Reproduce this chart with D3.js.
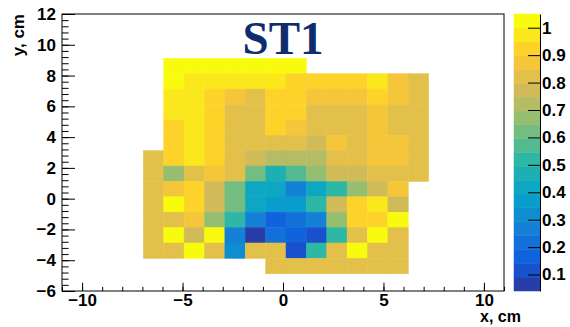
<!DOCTYPE html>
<html>
<head>
<meta charset="utf-8">
<script src="https://cdn.jsdelivr.net/npm/d3@7"></script>
<style>
  body { margin: 0; background: #fff; }
  svg { display: block; font-family: "Liberation Sans", Arial, sans-serif; }
  .axis text { font-size: 17px; font-weight: bold; fill: #000; }
  .axis path, .axis line { stroke: #000; }
</style>
</head>
<body>
<svg width="570" height="327"></svg>
<script>
"use strict";

const title = "ST1";
const xTitle = "x, cm";
const yTitle = "y, cm";

// bin grid of the map (14 x 14 bins)
const xStart = -6.95;
const xBinWidth = 14.2 / 14;
const yStart = -4.88;
const yBinWidth = 1;

// bin contents, top row first, left to right; null = empty bin
const rows = [
  [null, 1.02, 1.02, 1.02, 1.02, 1.02, 1.02, 1.02, null, null, null, null, null, null],
  [null, 1.02, 0.97, 0.97, 0.97, 0.97, 0.97, 0.92, 0.92, 0.92, 0.92, 0.97, 0.87, 0.82],
  [null, 0.97, 0.97, 0.92, 0.87, 0.82, 0.92, 0.92, 0.87, 0.87, 0.87, 0.92, 0.87, 0.82],
  [null, 0.97, 0.97, 0.92, 0.82, 0.82, 0.92, 0.92, 0.82, 0.82, 0.82, 0.87, 0.82, 0.82],
  [null, 0.92, 0.97, 0.92, 0.82, 0.82, 0.92, 0.87, 0.82, 0.82, 0.82, 0.87, 0.82, 0.82],
  [null, 0.92, 0.97, 0.92, 0.82, 0.82, 0.82, 0.82, 0.77, 0.87, 0.82, 0.87, 0.87, 0.82],
  [0.82, 0.92, 0.97, 0.92, 0.82, 0.77, 0.72, 0.72, 0.72, 0.82, 0.82, 0.87, 0.87, 0.82],
  [0.82, 0.67, 0.82, 0.87, 0.82, 0.62, 0.47, 0.57, 0.67, 0.77, 0.77, 0.82, 0.82, 0.82],
  [0.82, 0.87, 0.92, 0.77, 0.62, 0.42, 0.42, 0.27, 0.42, 0.52, 0.67, 0.77, 0.87, null],
  [0.82, 1.02, 0.92, 0.77, 0.62, 0.42, 0.37, 0.37, 0.52, 0.77, 0.92, 0.97, 0.77, null],
  [0.82, 0.82, 0.87, 0.67, 0.52, 0.27, 0.17, 0.22, 0.27, 0.67, 0.92, 0.92, 1.02, null],
  [0.82, 1.02, 0.77, 1.02, 0.27, 0.06, 0.22, 0.17, 0.12, 0.52, 0.82, 1.02, 0.82, null],
  [0.82, 0.82, 1.02, 0.82, 0.32, 0.82, 0.82, 0.12, 0.52, 0.82, 1.02, 0.82, 0.82, null],
  [null, null, null, null, null, null, 0.82, 0.82, 0.82, 0.82, 0.82, 0.82, 0.82, null]
];

const zMin = 0.04;
const zMax = 1.05;
const nContours = 20;

const xTicks = [-10, -5, 0, 5, 10];
const xMinorTicks = d3.range(-11, 12, 1);
const yTicks = [-6, -4, -2, 0, 2, 4, 6, 8, 10, 12];
const yMinorTicks = d3.range(-6, 12.01, 0.4);
const zTicks = [0.1, 0.2, 0.3, 0.4, 0.5, 0.6, 0.7, 0.8, 0.9, 1];

// kBird palette stops
const birdStops = [0, 0.125, 0.25, 0.375, 0.5, 0.625, 0.75, 0.875, 1];
const birdR = [0.2082, 0.0592, 0.0780, 0.0232, 0.1802, 0.5301, 0.8186, 0.9956, 0.9764];
const birdG = [0.1664, 0.3599, 0.5041, 0.6419, 0.7178, 0.7492, 0.7328, 0.7862, 0.9832];
const birdB = [0.5293, 0.8684, 0.8385, 0.7914, 0.6425, 0.4662, 0.3499, 0.1968, 0.0539];

const svg = d3.select("svg");

const frame = { left: 62, right: 504, top: 14, bottom: 291 };
const pal = { left: 514, right: 540 };

const x = d3.scaleLinear().domain([-11, 11]).range([frame.left, frame.right]);
const y = d3.scaleLinear().domain([-6, 12]).range([frame.bottom, frame.top]);
const z = d3.scaleLinear().domain([zMin, zMax]).range([frame.bottom, frame.top]);

const birdScale = ch => d3.scaleLinear().domain(birdStops).range(ch);
const rS = birdScale(birdR), gS = birdScale(birdG), bS = birdScale(birdB);
const palette = d3.range(255).map(i => {
  const f = i / 254;
  return d3.rgb(rS(f) * 255, gS(f) * 255, bS(f) * 255).formatHex();
});

const levelColor = k => {
  const idx = Math.min(254, Math.floor((k + 0.99) * 255 / nContours));
  return palette[idx];
};

const levelOf = v => {
  const k = Math.floor((v - zMin) / (zMax - zMin) * nContours);
  return Math.max(0, Math.min(nContours - 1, k));
};

const cells = [];
rows.forEach((row, r) => {
  const j = rows.length - 1 - r;
  row.forEach((v, c) => {
    if (v !== null) cells.push({ c, j, v });
  });
});

svg
  .append("g")
  .selectAll("rect")
  .data(cells)
  .enter()
  .append("rect")
  .attr("x", d => x(xStart + d.c * xBinWidth))
  .attr("y", d => y(yStart + (d.j + 1) * yBinWidth))
  .attr("width", d => x(xStart + (d.c + 1) * xBinWidth) - x(xStart + d.c * xBinWidth))
  .attr("height", d => y(yStart + d.j * yBinWidth) - y(yStart + (d.j + 1) * yBinWidth))
  .attr("fill", d => levelColor(levelOf(d.v)))
  .attr("stroke", d => levelColor(levelOf(d.v)))
  .attr("stroke-width", 0.5);

// x axis
svg
  .append("g")
  .attr("class", "axis")
  .attr("transform", `translate(0,${frame.bottom})`)
  .call(d3.axisBottom(x).tickValues(xMinorTicks).tickSize(-4.2).tickFormat(""))
  .call(g => g.select(".domain").remove());

svg
  .append("g")
  .attr("class", "axis")
  .attr("transform", `translate(0,${frame.bottom})`)
  .call(d3.axisBottom(x).tickValues(xTicks).tickSizeInner(-8.3).tickSizeOuter(0).tickPadding(3))
  .call(g => g.select(".domain").remove());

// y axis
svg
  .append("g")
  .attr("class", "axis")
  .attr("transform", `translate(${frame.left},0)`)
  .call(d3.axisLeft(y).tickValues(yMinorTicks).tickSize(-6.6).tickFormat(""))
  .call(g => g.select(".domain").remove());

svg
  .append("g")
  .attr("class", "axis")
  .attr("transform", `translate(${frame.left},0)`)
  .call(d3.axisLeft(y).tickValues(yTicks).tickSizeInner(-13).tickSizeOuter(0).tickPadding(6))
  .call(g => g.select(".domain").remove());

// frame
svg
  .append("rect")
  .attr("x", frame.left)
  .attr("y", frame.top)
  .attr("width", frame.right - frame.left)
  .attr("height", frame.bottom - frame.top)
  .attr("fill", "none")
  .attr("stroke", "#000")
  .attr("stroke-width", 1);

// palette
const bands = d3.range(nContours);
const dz = (zMax - zMin) / nContours;

svg
  .append("g")
  .selectAll("rect")
  .data(bands)
  .enter()
  .append("rect")
  .attr("x", pal.left)
  .attr("width", pal.right - pal.left)
  .attr("y", k => z(zMin + (k + 1) * dz))
  .attr("height", k => z(zMin + k * dz) - z(zMin + (k + 1) * dz))
  .attr("fill", k => levelColor(k))
  .attr("stroke", k => levelColor(k))
  .attr("stroke-width", 0.5);

svg
  .append("g")
  .attr("class", "axis")
  .attr("transform", `translate(${pal.right},0)`)
  .call(
    d3.axisRight(z)
      .tickValues(zTicks)
      .tickSizeInner(-12)
      .tickSizeOuter(0)
      .tickPadding(2)
      .tickFormat(d => String(d))
  );

// titles
svg
  .append("text")
  .attr("x", 521)
  .attr("y", 322)
  .attr("text-anchor", "end")
  .style("font-size", "16px")
  .style("font-weight", "bold")
  .text(xTitle);

svg
  .append("text")
  .attr("transform", `translate(24,${frame.top}) rotate(-90)`)
  .attr("text-anchor", "end")
  .style("font-size", "17px")
  .style("font-weight", "bold")
  .text(yTitle);

svg
  .append("text")
  .attr("x", 283)
  .attr("y", 54)
  .attr("text-anchor", "middle")
  .style("font-family", "'Liberation Serif', 'Times New Roman', serif")
  .style("font-size", "47px")
  .style("font-weight", "bold")
  .style("fill", "#0f2d6e")
  .text(title);
</script>
</body>
</html>
